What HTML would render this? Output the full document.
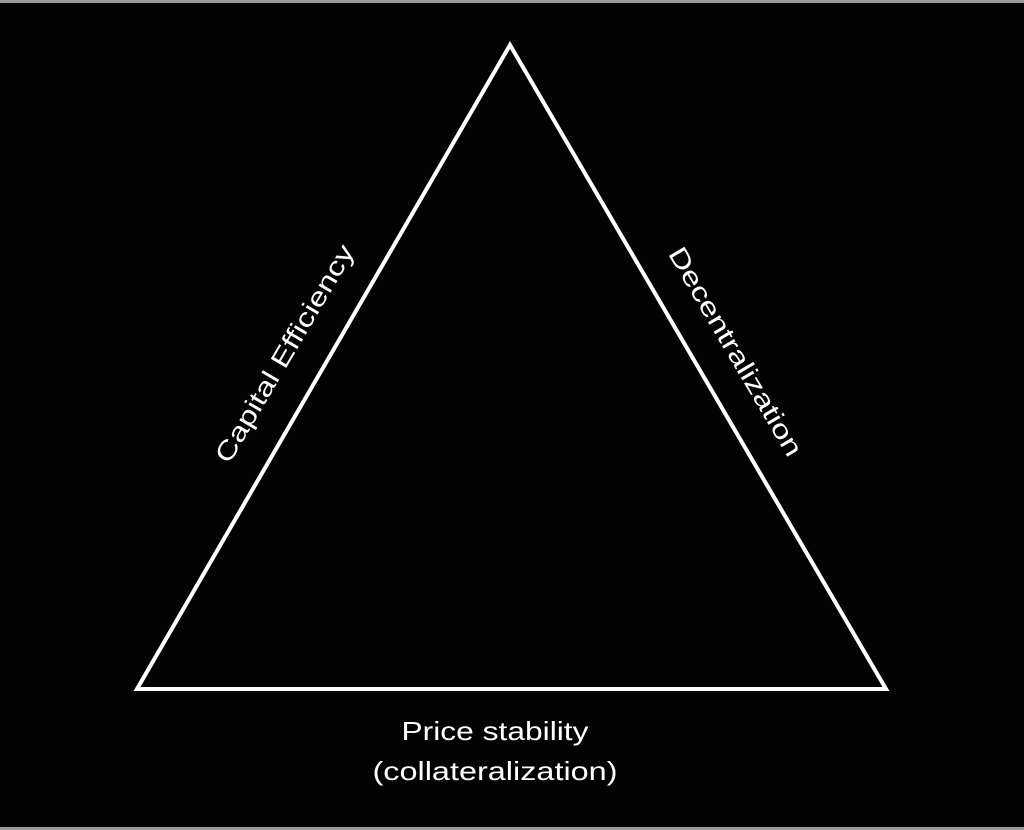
<!DOCTYPE html>
<html><head><meta charset="utf-8"><style>html,body{margin:0;padding:0;background:#000;}svg{display:block}</style></head>
<body>
<svg width="1024" height="830" viewBox="0 0 1024 830" xmlns="http://www.w3.org/2000/svg">
<rect width="1024" height="830" fill="#030303"/>
<rect x="0" y="0" width="1024" height="3" fill="#9a9a9a"/>
<rect x="0" y="827" width="1024" height="3" fill="#9a9a9a"/>
<polygon points="510,45 137,689 886,689" fill="none" stroke="#fff" stroke-width="4" stroke-linejoin="miter"/>
<g font-family="Liberation Sans, sans-serif" fill="#fff" font-size="26">
<text x="0" y="0" text-anchor="middle" textLength="248" lengthAdjust="spacingAndGlyphs" transform="translate(292,358) rotate(-59.5)">Capital Efficiency</text>
<text x="0" y="0" text-anchor="middle" textLength="238" lengthAdjust="spacingAndGlyphs" transform="translate(728,356) rotate(59.5)">Decentralization</text>
<text x="495" y="740" text-anchor="middle" textLength="187" lengthAdjust="spacingAndGlyphs">Price stability</text>
<text x="495" y="780" text-anchor="middle" textLength="245" lengthAdjust="spacingAndGlyphs">(collateralization)</text>
</g>
</svg>
</body></html>
